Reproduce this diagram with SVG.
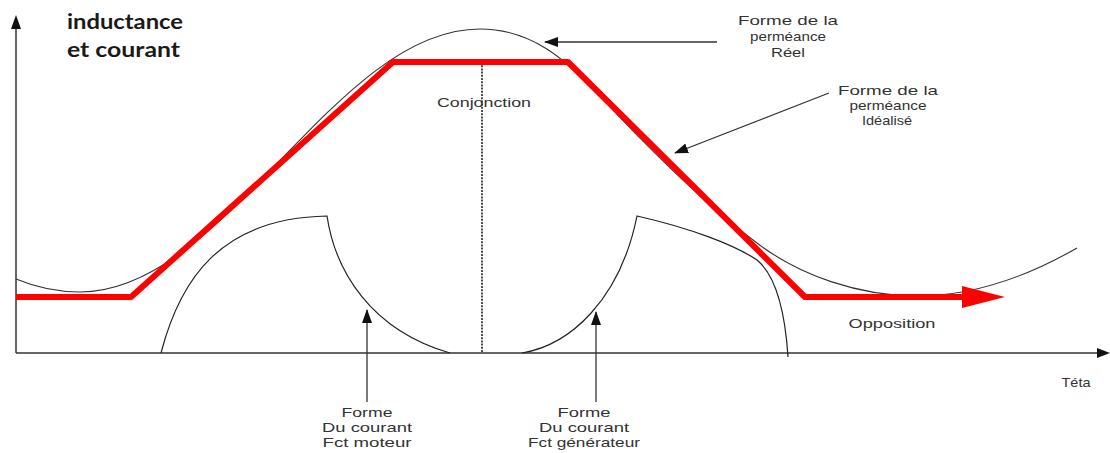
<svg xmlns="http://www.w3.org/2000/svg" width="1110" height="453" viewBox="0 0 1110 453">
<style>
.lbl{font-family:"Liberation Sans",Arial,sans-serif;font-size:13px;fill:#333;text-anchor:middle}
.title{font-family:Lato,"Open Sans",sans-serif;font-size:21px;font-weight:bold;fill:#1a1a1a}
.axis{stroke:#333;stroke-width:1.5;fill:none}
.thin{stroke:#333;stroke-width:1.1;fill:none}
.arr{stroke:#333;stroke-width:1.3;fill:none;marker-end:url(#ah)}
</style>
<defs>
<marker id="ah" markerUnits="userSpaceOnUse" markerWidth="14" markerHeight="12" refX="13" refY="5" orient="auto" viewBox="0 0 14 10">
<path d="M0,0 L14,5 L0,10 Z" fill="#111"/>
</marker>
</defs>
<rect width="1110" height="453" fill="#fff"/>
<g id="axes">
<line class="axis" x1="16" y1="353" x2="16" y2="28"/>
<polygon points="16,15 11,29 21,29" fill="#111"/>
<line class="axis" x1="16" y1="353" x2="1098" y2="353"/>
<polygon points="1110,353 1097,348 1097,358" fill="#111"/>
</g>
<g id="title">
<text class="title" x="67" y="29" textLength="116" lengthAdjust="spacingAndGlyphs">inductance</text>
<text class="title" x="67" y="57" textLength="113" lengthAdjust="spacingAndGlyphs">et courant</text>
</g>
<g id="permeance-reelle">
<path class="thin" d="M16,279 C40,289 60,292 80,292 C226,292 334,29 480,29 C530,29 565,58 600,96 C640,140 700,200 757,243 C800,276 860,296 917,296 C975,296 1030,275 1077,248"/>
</g>
<g id="courant-moteur">
<path d="M161,353 C180,280 220,218 327,216 C335,270 370,330 450,353" stroke="#222" stroke-width="1.2" fill="none"/>
</g>
<g id="courant-generateur">
<path d="M522,353 C570,345 620,300 637,216 C690,228 735,245 757,260 C775,275 785,310 788,357" stroke="#222" stroke-width="1.2" fill="none"/>
</g>
<g id="conjonction-line">
<line x1="482" y1="62" x2="482" y2="353" stroke="#111" stroke-width="1.5" stroke-dasharray="2,1.2"/>
</g>
<g id="permeance-idealisee">
<polyline points="16,297 131,297 393,62 568,62 805,297 965,297" stroke="#ff0000" stroke-width="6" fill="none" stroke-linejoin="round"/>
<polygon points="962,286 1005,297 962,308" fill="#ff0000"/>
</g>
<g id="connectors">
<line class="arr" x1="717" y1="42" x2="545" y2="42"/>
<line class="arr" x1="829" y1="93" x2="675" y2="153"/>
<line class="arr" x1="367" y1="402" x2="367" y2="310"/>
<line class="arr" x1="596" y1="402" x2="596" y2="312"/>
</g>
<g id="label-reel">
<text class="lbl" x="788" y="25" textLength="100" lengthAdjust="spacingAndGlyphs">Forme de la</text>
<text class="lbl" x="788" y="41" textLength="76" lengthAdjust="spacingAndGlyphs">perméance</text>
<text class="lbl" x="788" y="57" textLength="34" lengthAdjust="spacingAndGlyphs">Réel</text>
</g>
<g id="label-idealise">
<text class="lbl" x="888" y="95" textLength="100" lengthAdjust="spacingAndGlyphs">Forme de la</text>
<text class="lbl" x="888" y="110" textLength="77" lengthAdjust="spacingAndGlyphs">perméance</text>
<text class="lbl" x="887" y="125" textLength="50" lengthAdjust="spacingAndGlyphs">Idéalisé</text>
</g>
<g id="label-conjonction">
<text class="lbl" x="484" y="107" textLength="94" lengthAdjust="spacingAndGlyphs">Conjonction</text>
</g>
<g id="label-opposition">
<text class="lbl" x="892" y="328" textLength="87" lengthAdjust="spacingAndGlyphs">Opposition</text>
</g>
<g id="label-teta">
<text class="lbl" x="1076" y="387" textLength="29" lengthAdjust="spacingAndGlyphs">Téta</text>
</g>
<g id="label-moteur">
<text class="lbl" x="367" y="417" textLength="51" lengthAdjust="spacingAndGlyphs">Forme</text>
<text class="lbl" x="367" y="432" textLength="90" lengthAdjust="spacingAndGlyphs">Du courant</text>
<text class="lbl" x="367" y="447" textLength="89" lengthAdjust="spacingAndGlyphs">Fct moteur</text>
</g>
<g id="label-generateur">
<text class="lbl" x="584" y="417" textLength="53" lengthAdjust="spacingAndGlyphs">Forme</text>
<text class="lbl" x="584" y="432" textLength="90" lengthAdjust="spacingAndGlyphs">Du courant</text>
<text class="lbl" x="584" y="447" textLength="112" lengthAdjust="spacingAndGlyphs">Fct générateur</text>
</g>
</svg>
